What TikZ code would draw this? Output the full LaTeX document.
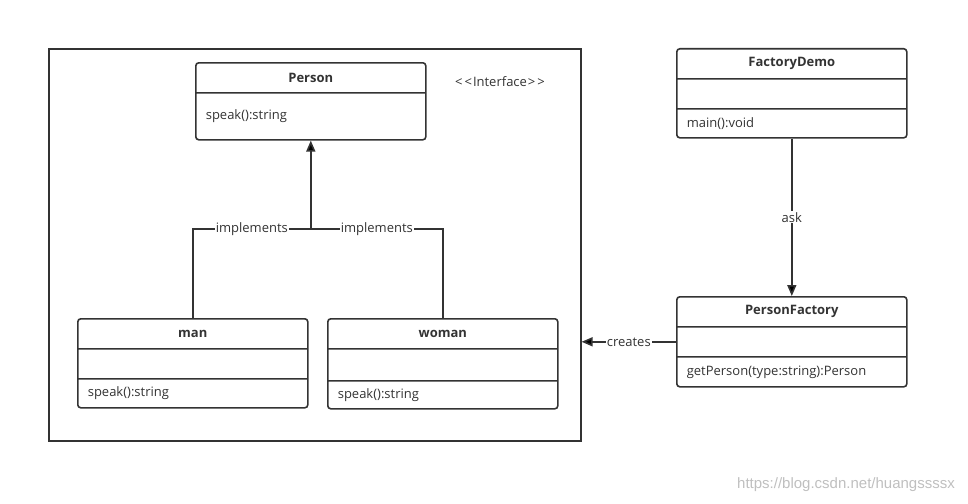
\documentclass[tikz,border=0pt]{standalone}
\usepackage{fontspec}
\usepackage{xcolor}
\usepackage{tikz}
\usetikzlibrary{shapes.multipart,arrows.meta,calc}
\setmainfont{Open Sans}
\newfontfamily\markfont{Liberation Sans}
\definecolor{umlgray}{HTML}{333333}
\newcommand{\umltitle}[1]{\parbox[c][28.4pt][c]{230pt}{\centering\bfseries #1}}
\newcommand{\umlrow}[2]{\parbox[c][#1][c]{230pt}{\hspace*{10pt}#2}}

\begin{document}
\begin{tikzpicture}[x=1pt,y=-1pt,
                    font=\fontsize{13}{15}\selectfont, text=umlgray,
                    umlclass/.style={rectangle split, rectangle split parts=#1, draw=umlgray,
                                     line width=1.6pt, rounded corners=3pt, inner sep=0pt, anchor=north west},
                    link/.style={draw=umlgray, line width=1.6pt},
                    arrow/.style={link, -{Triangle[length=11pt,width=9pt]}},
                    tag/.style={fill=white, inner sep=1pt}]
    \useasboundingbox (0,0) rectangle (968,503);
    \node[draw=umlgray, line width=1.6pt, minimum width=532pt, minimum height=392pt,
          anchor=north west, inner sep=0pt] (frame) at (48,48) {};
    \node[umlclass=2] (person) at (195,62)
        {\umltitle{Person} \nodepart{two} \umlrow{45.4pt}{speak():string}};
    \node (iface) at (500,82) {<\kern2pt<\kern1ptInterface\kern1pt>\kern2pt>};
    \node[umlclass=3] (man) at (77,318)
        {\umltitle{man} \nodepart{two} \umlrow{28.4pt}{} \nodepart{three} \umlrow{27.4pt}{speak():string}};
    \node[umlclass=3] (woman) at (327,318)
        {\umltitle{woman} \nodepart{two} \umlrow{30.4pt}{} \nodepart{three} \umlrow{26.4pt}{speak():string}};
    \node[umlclass=3] (demo) at (676,48)
        {\umltitle{FactoryDemo} \nodepart{two} \umlrow{28.4pt}{} \nodepart{three} \umlrow{27.4pt}{main():void}};
    \node[umlclass=3] (factory) at (676,296)
        {\umltitle{PersonFactory} \nodepart{two} \umlrow{28.4pt}{} \nodepart{three} \umlrow{28.4pt}{getPerson(type:string):Person}};
    \coordinate (join) at (person.south |- 0,229);
    \coordinate (creates) at ($(factory.text split west)!0.5!(factory.two split west)$);
    \draw[link] (man.north) |- node[tag, pos=0.75] {implements} (join);
    \draw[link] (woman.north) |- node[tag, pos=0.75] {implements} (join);
    \draw[arrow] (join) -- (person.south);
    \draw[arrow] (demo.south) -- node[tag] {ask} (factory.north);
    \draw[arrow] (creates) -- node[tag] {creates} (frame.east |- creates);
    \node[font=\markfont\fontsize{15}{17}\selectfont, text=black!25] (mark) at (846,485)
        {https://blog.csdn.net/huangssssx};
\end{tikzpicture}
\end{document}
